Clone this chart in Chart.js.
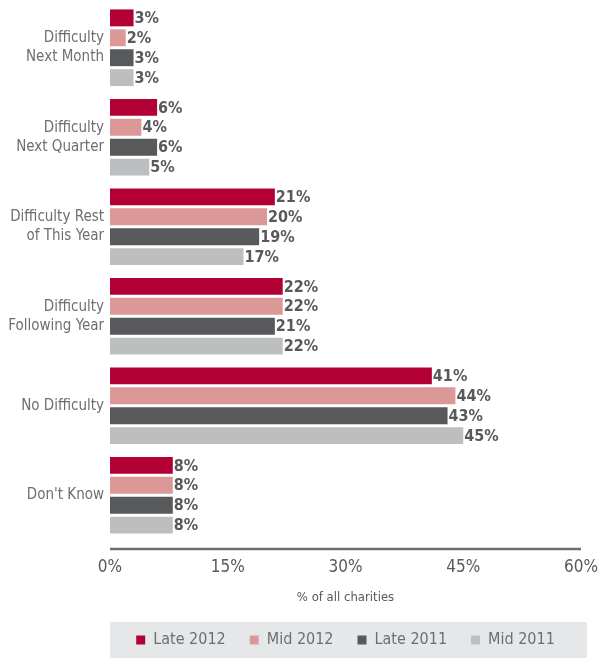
<!DOCTYPE html>
<html>
<head>
<meta charset="utf-8">
<script src="https://cdn.jsdelivr.net/npm/chart.js@4/dist/chart.umd.min.js"></script>
<style>
  html, body { margin: 0; padding: 0; background: #fff; }
  #wrap { width: 601px; height: 658px; }
</style>
</head>
<body>
<div id="wrap"><canvas id="chart" width="601" height="658"></canvas></div>
<script>
const categories = [
  ["Difficulty", "Next Month"],
  ["Difficulty", "Next Quarter"],
  ["Difficulty Rest", "of This Year"],
  ["Difficulty", "Following Year"],
  "No Difficulty",
  "Don't Know",
];
const late2012 = [3, 6, 21, 22, 41, 8];
const mid2012 = [2, 4, 20, 22, 44, 8];
const late2011 = [3, 6, 19, 21, 43, 8];
const mid2011 = [3, 5, 17, 22, 45, 8];
const seriesNames = ["Late 2012", "Mid 2012", "Late 2011", "Mid 2011"];
const xTicks = [0, 15, 30, 45, 60];

const FONT = "'Liberation Sans Narrow', 'DejaVu Sans Condensed', sans-serif";
const AXIS_GAP = 9;

// numbers at the end of each bar
const barLabels = {
  id: "barLabels",
  afterDatasetsDraw(chart) {
    const ctx = chart.ctx;
    ctx.save();
    ctx.font = "bold 16px " + FONT;
    ctx.fillStyle = "#58595b";
    ctx.textBaseline = "middle";
    ctx.textAlign = "left";
    chart.data.datasets.forEach((ds, i) => {
      chart.getDatasetMeta(i).data.forEach((bar, j) => {
        ctx.fillText(ds.data[j] + "%", bar.x + 1, bar.y + 1);
      });
    });
    ctx.restore();
  },
};

// grey band behind the legend + axis line sitting a little below the bars
const decorations = {
  id: "decorations",
  beforeDraw(chart) {
    const lg = chart.legend;
    const ctx = chart.ctx;
    ctx.save();
    if (lg) {
      ctx.fillStyle = "#e6e7e8";
      ctx.fillRect(lg.left, lg.top + 14, lg.right - lg.left + 6, chart.height - lg.top - 14);
    }
    const a = chart.chartArea;
    ctx.strokeStyle = "#6d6e71";
    ctx.lineWidth = 2.5;
    ctx.beginPath();
    ctx.moveTo(a.left, a.bottom + AXIS_GAP);
    ctx.lineTo(a.right, a.bottom + AXIS_GAP);
    ctx.stroke();
    ctx.restore();
  },
};

new Chart(document.getElementById("chart"), {
  type: "bar",
  data: {
    labels: categories,
    datasets: [
      { label: seriesNames[0], data: late2012, backgroundColor: "#b20034" },
      { label: seriesNames[1], data: mid2012, backgroundColor: "#dc9896" },
      { label: seriesNames[2], data: late2011, backgroundColor: "#58595b" },
      { label: seriesNames[3], data: mid2011, backgroundColor: "#bcbec0" },
    ],
  },
  options: {
    indexAxis: "y",
    responsive: false,
    animation: false,
    layout: { padding: { top: 3, right: 20, left: 0, bottom: 0 } },
    datasets: {
      bar: { categoryPercentage: 0.89, barPercentage: 0.85 },
    },
    scales: {
      x: {
        min: 0,
        max: 60,
        afterBuildTicks: (scale) => {
          scale.ticks = xTicks.map((v) => ({ value: v }));
        },
        afterFit: (scale) => {
          scale.paddingLeft = 0;
          scale.paddingRight = 0;
          scale.height = 68;
        },
        grid: { display: false, drawTicks: false },
        border: { display: false },
        ticks: {
          padding: 8 + AXIS_GAP,
          color: "#58595b",
          font: { family: FONT, size: 17 },
          callback: (v) => v + "%",
        },
        title: {
          display: true,
          text: "% of all charities",
          color: "#58595b",
          font: { family: FONT, size: 13 },
          padding: { top: 0, bottom: 3 },
        },
      },
      y: {
        grid: { display: false, drawTicks: false },
        border: { display: false },
        afterFit: (scale) => {
          scale.width = 110;
          scale.paddingTop = 0;
          scale.paddingBottom = 0;
        },
        ticks: {
          padding: 6,
          color: "#6d6e71",
          font: { family: FONT, size: 15, lineHeight: 1.27 },
        },
      },
    },
    plugins: {
      legend: {
        position: "bottom",
        fullSize: false,
        labels: {
          boxWidth: 9,
          boxHeight: 9,
          padding: 24,
          color: "#6d6e71",
          font: { family: FONT, size: 16 },
        },
      },
      tooltip: { enabled: false },
    },
  },
  plugins: [barLabels, decorations],
});
</script>
</body>
</html>
